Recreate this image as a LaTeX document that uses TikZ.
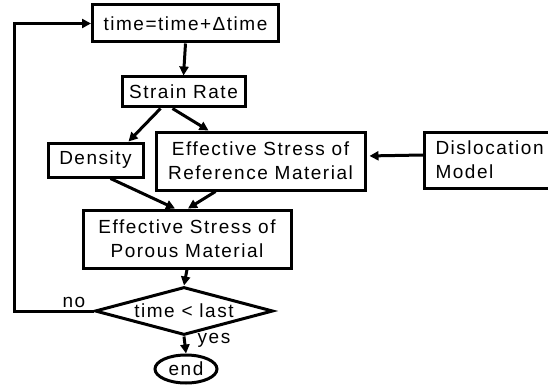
\documentclass[tikz,border=0pt]{standalone}
\usepackage{fontspec}
\setmainfont{Liberation Sans}[LetterSpace=8]
\usetikzlibrary{shapes,arrows.meta,positioning}

\begin{document}
\begin{tikzpicture}[x=1pt,y=-1pt]
	\tikzstyle{stepbox} = [rectangle, draw, line width=3pt, inner sep=0pt, align=center, font=\fontsize{19}{24}\selectfont]
	\tikzstyle{decision} = [diamond, draw, line width=3pt, inner sep=0pt, aspect=3.7, minimum width=178pt, minimum height=48pt, font=\fontsize{19}{24}\selectfont]
	\tikzstyle{flowline} = [-{Triangle[length=9pt,width=9pt]}, line width=3pt]
	\useasboundingbox (0,0) rectangle (548,385);
	
	\node[stepbox, minimum width=186pt, minimum height=37pt] (time) at (185.5,23.5) {time=time+Δtime};
	\node[stepbox, minimum width=123pt, minimum height=30pt] (strain) at (183.5,92) {Strain Rate};
	\node[stepbox, minimum width=95pt, minimum height=34pt] (density) at (95.5,160) {Density};
	\node[stepbox, minimum width=209pt, minimum height=58pt] (refstress) at (260.5,161) {Effective Stress of\\Reference Material};
	\node[stepbox, anchor=west, minimum height=56pt, inner xsep=11pt, text width=120pt, align=left] (disloc) at (423,160) {Dislocation\\Model};
	\node[stepbox, minimum width=208pt, minimum height=58pt] (porous) at (187,239) {Effective Stress of\\Porous Material};
	\node[decision] (check) at (184,311) {time < last};
	\node[ellipse, draw, line width=3pt, inner sep=0pt, minimum width=62pt, minimum height=28pt, font=\fontsize{19}{24}\selectfont] (end) at (186,369) {end};
	
	\node[font=\fontsize{19}{24}\selectfont, inner sep=0pt] (nolabel) at (74,302) {no};
	\node[font=\fontsize{19}{24}\selectfont, inner sep=0pt] (yeslabel) at (214,340) {yes};
	\coordinate (back) at (14,311);
	
	\draw[flowline] (time.south) -- (strain.north);
	\draw[flowline] ([xshift=-23pt]strain.south) -- ([xshift=33pt]density.north);
	\draw[flowline] ([xshift=-11pt]strain.south) -- ([xshift=-52pt]refstress.north);
	\draw[flowline, shorten >=3pt] ([yshift=5pt]disloc.west) -- ([yshift=5pt]refstress.east);
	\draw[flowline] ([xshift=15pt]density.south) -- ([xshift=-12pt]porous.north);
	\draw[flowline] ([xshift=-45pt]refstress.south) -- ([xshift=1pt]porous.north);
	\draw[flowline] (porous.south) -- (check.north);
	\draw[flowline] (check.south) -- (end.north);
	\draw[flowline] (check.west) -- (back) |- (time.west);
	
\end{tikzpicture}
\end{document}
